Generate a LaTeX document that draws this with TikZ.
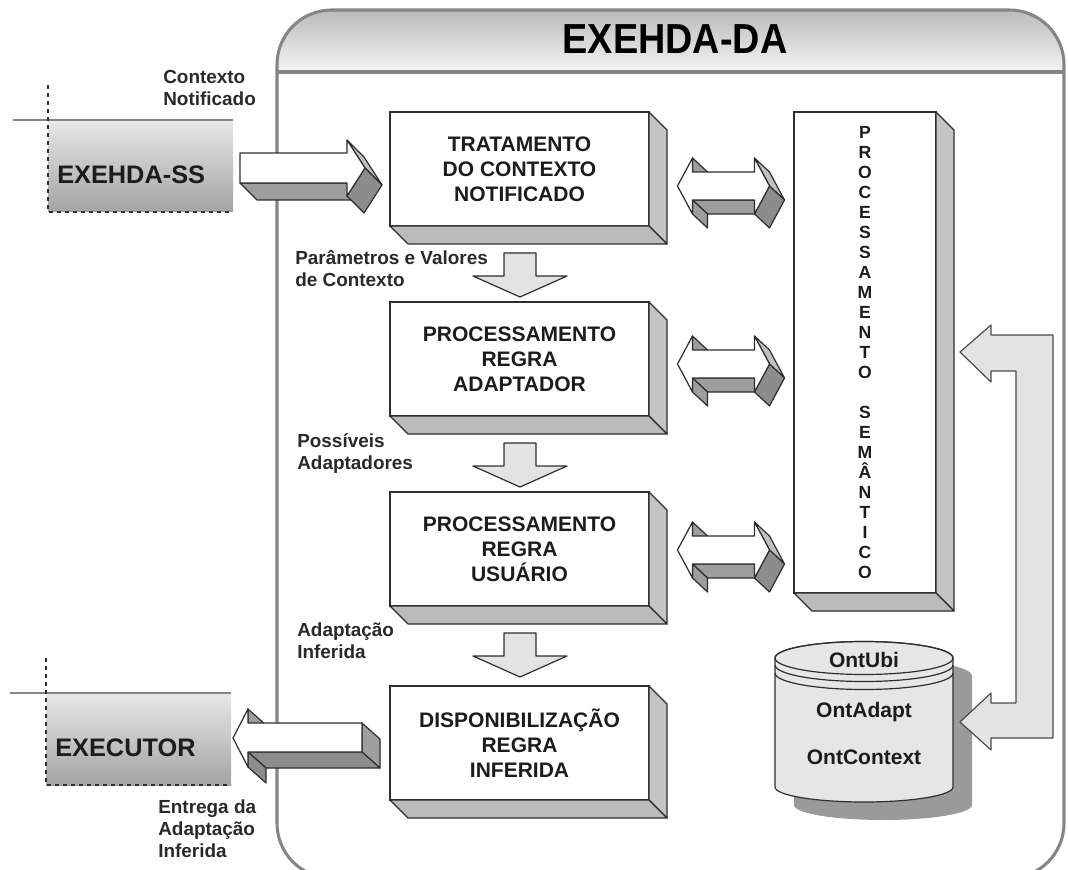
\documentclass[tikz,border=0pt]{standalone}
\usepackage{fontspec}
\setmainfont{Liberation Sans}
\usetikzlibrary{calc}

\definecolor{ink}{HTML}{1C1C1C}
\definecolor{noteink}{HTML}{2A2A2A}
\definecolor{frame}{HTML}{858585}
\definecolor{edge}{HTML}{2E2E2E}
\definecolor{facer}{HTML}{C4C4C4}
\definecolor{faceb}{HTML}{BBBBBB}
\definecolor{midg}{HTML}{9E9E9E}
\definecolor{darkg}{HTML}{8C8C8C}
\definecolor{lightg}{HTML}{C0C0C0}
\definecolor{flatg}{HTML}{E3E3E3}
\definecolor{cylg}{HTML}{E6E6E6}
\definecolor{shadowg}{HTML}{9A9A9A}

\newcommand{\stagefont}{\fontsize{15.75}{18.75}\selectfont\bfseries}
\newcommand{\notefont}{\fontsize{14.2}{16.5}\selectfont\bfseries}
\newcommand{\sidefont}{\fontsize{19}{22}\selectfont\bfseries}
\newcommand{\ontfont}{\fontsize{15.75}{18}\selectfont\bfseries}
\newcommand{\letterfont}{\fontsize{13.2}{15}\selectfont\bfseries}

% depth faces (right and bottom) of an extruded stage box
\newcommand{\boxdepth}[1]{%
  \filldraw[solid3d, fill=facer] (#1.north east) -- ++(18,18)
     -- ($(#1.south east)+(18,18)$) -- (#1.south east) -- cycle;
  \filldraw[solid3d, fill=faceb] (#1.south west) -- (#1.south east)
     -- ($(#1.south east)+(18,18)$) -- ($(#1.south west)+(18,18)$) -- cycle;
}

% two-headed extruded arrow centred at (#1,#2)
\newcommand{\duplexarrow}[2]{%
  \begin{scope}[shift={(#1,#2)}]
    \filldraw[solid3d, fill=midg] (-31,14) -- (31,14) -- (46,28) -- (-16,28) -- cycle;
    \filldraw[solid3d, fill=midg] (-31,14) -- (-31,28) -- (-16,42) -- (-16,28) -- cycle;
    \filldraw[solid3d, fill=midg] (-31,-28) -- (-31,-14) -- (-16,0) -- (-16,-14) -- cycle;
    \filldraw[solid3d, fill=lightg] (31,-28) -- (46,0) -- (61,14) -- (46,-14) -- cycle;
    \filldraw[solid3d, fill=darkg] (46,0) -- (31,28) -- (46,42) -- (61,14) -- cycle;
    \filldraw[solid3d, fill=white] (-46,0) -- (-31,-28) -- (-31,-14) -- (31,-14)
      -- (31,-28) -- (46,0) -- (31,28) -- (31,14) -- (-31,14) -- (-31,28) -- cycle;
  \end{scope}
}

% flat downward block arrow, shaft top centred at (#1,#2)
\newcommand{\flowdown}[2]{%
  \filldraw[flatarrow] (#1-16,#2) -- (#1+16,#2) -- (#1+16,#2+23) -- (#1+47,#2+23)
    -- (#1,#2+44) -- (#1-47,#2+23) -- (#1-16,#2+23) -- cycle;
}

\begin{document}
\begin{tikzpicture}[x=0.75pt, y=-0.75pt,
  solid3d/.style={draw=edge, line width=0.9pt, line join=round},
  flatarrow/.style={draw=edge, line width=0.9pt, fill=flatg, line join=round},
  stage/.style={draw=edge, line width=0.9pt, fill=white, outer sep=0pt, inner sep=0pt,
    minimum width=194.25pt, minimum height=85.5pt, align=center, font=\stagefont, text=ink},
  note/.style={anchor=west, align=left, font=\notefont, text=noteink, inner sep=0pt},
  sidebox/.style={top color=black!9, bottom color=black!36, draw=none,
    minimum width=138.75pt, minimum height=69pt, inner sep=0pt, outer sep=0pt},
  ont/.style={font=\ontfont, text=ink, inner sep=0pt}]

\useasboundingbox (0,0) rectangle (1068,870);

% ---------- EXEHDA-DA container ----------
\fill[white, rounded corners=41pt] (277,10) rectangle (1064,878);
\begin{scope}
  \clip[rounded corners=41pt] (277,10) rectangle (1064,878);
  \shade[top color=black!27, bottom color=black!4] (277,10) rectangle (1064,72);
\end{scope}
\draw[frame, line width=2.3pt, rounded corners=41pt] (277,10) rectangle (1064,878);
\draw[frame, line width=2.3pt] (277,72) -- (1064,72);
\node[font=\fontsize{31.5}{36}\selectfont\bfseries, text=black, inner sep=0pt] (title)
  at (675,39) {\scalebox{0.9}[1]{EXEHDA-DA}};

% ---------- external components ----------
\node[sidebox] (ss) at (140.5,166) {};
\draw[frame, line width=2.2pt] (13,120) -- (233,120);
\draw[edge, dashed, line width=0.8pt] (48,85) -- (48,212) -- (233,212);
\node[anchor=west, font=\sidefont, text=ink, inner sep=0pt] (sslabel) at (57,175) {EXEHDA-SS};

\node[sidebox] (exec) at (138.5,739) {};
\draw[frame, line width=2.2pt] (10,693) -- (231,693);
\draw[edge, dashed, line width=0.8pt] (46,658) -- (46,785) -- (231,785);
\node[anchor=west, font=\sidefont, text=ink, inner sep=0pt] (execlabel) at (55,748) {EXECUTOR};

\node[note] (n1) at (163,88) {Contexto\\Notificado};
\node[note] (n5) at (158,829) {Entrega da\\Adaptação\\Inferida};

% ---------- processing stages ----------
\node[stage] (b1) at (519.5,169) {TRATAMENTO\\DO CONTEXTO\\NOTIFICADO};
\node[stage] (b2) at (519.5,359) {PROCESSAMENTO\\REGRA\\ADAPTADOR};
\node[stage] (b3) at (519.5,549) {PROCESSAMENTO\\REGRA\\USUÁRIO};
\node[stage] (b4) at (519.5,743) {DISPONIBILIZAÇÃO\\REGRA\\INFERIDA};
\boxdepth{b1}
\boxdepth{b2}
\boxdepth{b3}
\boxdepth{b4}

\node[stage, minimum width=106.5pt, minimum height=360.75pt, font=\letterfont] (sem)
  at (865,352.5) {P\\R\\O\\C\\E\\S\\S\\A\\M\\E\\N\\T\\O\\~\\S\\E\\M\\Â\\N\\T\\I\\C\\O};
\boxdepth{sem}

% ---------- flow labels and arrows between stages ----------
\node[note] (n2) at (295,269) {Parâmetros e Valores\\de Contexto};
\node[note] (n3) at (297,454) {Possíveis\\Adaptadores};
\node[note] (n4) at (297,641) {Adaptação\\Inferida};

\flowdown{520}{253}
\flowdown{520}{443}
\flowdown{520}{633}

\duplexarrow{723.5}{186}
\duplexarrow{723.5}{364}
\duplexarrow{723.5}{550}

% extruded arrow from EXEHDA-SS into the first stage
\filldraw[solid3d, fill=midg] (240,183) -- (347,183) -- (364,200) -- (257,200) -- cycle;
\filldraw[solid3d, fill=lightg] (347,140) -- (365,168) -- (382,185) -- (364,157) -- cycle;
\filldraw[solid3d, fill=darkg] (365,168) -- (347,196) -- (364,213) -- (382,185) -- cycle;
\filldraw[solid3d, fill=white] (240,153) -- (347,153) -- (347,140) -- (365,168)
  -- (347,196) -- (347,183) -- (240,183) -- cycle;

% extruded arrow from the last stage out to EXECUTOR
\filldraw[solid3d, fill=midg] (362,723) -- (380,739) -- (380,768) -- (362,752) -- cycle;
\filldraw[solid3d, fill=darkg] (248,752) -- (362,752) -- (380,768) -- (266,768) -- cycle;
\filldraw[solid3d, fill=darkg] (248,752) -- (248,767) -- (266,783) -- (266,768) -- cycle;
\filldraw[solid3d, fill=midg] (248,709) -- (248,723) -- (266,739) -- (266,725) -- cycle;
\filldraw[solid3d, fill=white] (233,738) -- (248,709) -- (248,723) -- (362,723)
  -- (362,752) -- (248,752) -- (248,767) -- cycle;

% ---------- ontology store ----------
\fill[shadowg] (794,676) -- (794,805)
  arc[start angle=180, end angle=360, x radius=66.75pt, y radius=11.25pt]
  -- (972,676) arc[start angle=0, end angle=180, x radius=66.75pt, y radius=12.375pt] -- cycle;
\filldraw[draw=edge, line width=0.9pt, fill=cylg] (775,658) -- (775,787)
  arc[start angle=180, end angle=360, x radius=66.75pt, y radius=11.25pt]
  -- (953,658) arc[start angle=0, end angle=180, x radius=66.75pt, y radius=12.375pt] -- cycle;
\draw[edge, line width=0.9pt] (864,658) ellipse[x radius=66.75pt, y radius=12.375pt];
\draw[edge, line width=0.9pt] (775,665)
  arc[start angle=180, end angle=360, x radius=66.75pt, y radius=12.375pt];
\draw[edge, line width=0.9pt] (775,673)
  arc[start angle=180, end angle=360, x radius=66.75pt, y radius=12.375pt];
\node[ont] (ontubi) at (864,660) {OntUbi};
\node[ont] (ontadapt) at (864,712) {OntAdapt};
\node[ont] (ontcontext) at (864,757) {OntContext};

% two-way link between the ontology store and the semantic processing
\filldraw[draw=black!70, line width=0.9pt, fill=flatg, line join=round]
  (960,352) -- (991,325) -- (991,335) -- (1053,335) -- (1053,738) -- (991,738)
  -- (991,750) -- (960,722) -- (991,693) -- (991,703) -- (1016,703) -- (1016,371)
  -- (991,371) -- (991,382) -- cycle;

\end{tikzpicture}
\end{document}
